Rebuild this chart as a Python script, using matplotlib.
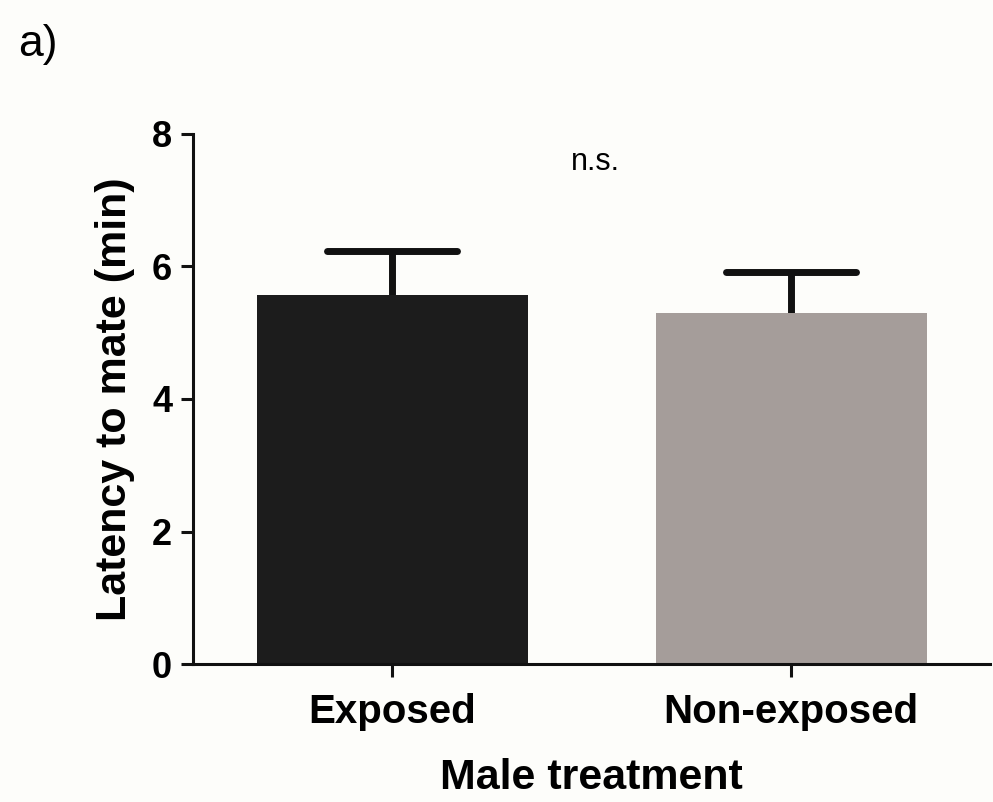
import matplotlib.pyplot as plt

# values
groups = ['Exposed', 'Non-exposed']
means = [5.57, 5.30]
sem = [0.66, 0.62]
colors = ['#1c1c1c', '#a59d9a']

plt.rcParams['font.family'] = ['Liberation Sans', 'DejaVu Sans']

fig = plt.figure(figsize=(9.93, 8.02), dpi=100, facecolor='#fdfdfa')
ax = fig.add_axes([0.1944, 0.172, 0.803, 0.661])
ax.set_facecolor('#fdfdfa')

x = list(range(len(groups)))
ax.bar(x, means, width=0.68, color=colors, zorder=2)

# upper-only error bars: stem + cap
tops = [m + e for m, e in zip(means, sem)]
cap = 0.163
ax.vlines(x, means, tops, colors='#111111', linewidth=5, zorder=1)
ax.hlines(tops, [i - cap for i in x], [i + cap for i in x], colors='#111111',
          linewidth=5, zorder=1, capstyle='round')

ax.set_xlim(-0.5, 1.5)
ax.set_ylim(0, 8)
ax.set_yticks([0, 2, 4, 6, 8])
ax.set_xticks(x)
ax.set_xticklabels(groups)

for s in ['top', 'right']:
    ax.spines[s].set_visible(False)
for s in ['left', 'bottom']:
    ax.spines[s].set_linewidth(2.2)
    ax.spines[s].set_color('#111111')
ax.tick_params(axis='both', width=2.2, length=9, color='#111111',
               labelsize=26, pad=6)
ax.tick_params(axis='x', labelsize=29, pad=12)
for lab in ax.get_xticklabels() + ax.get_yticklabels():
    lab.set_fontweight('bold')

ax.set_ylabel('Latency to mate (min)', fontsize=31, fontweight='bold', labelpad=12)
ax.set_xlabel('Male treatment', fontsize=31, fontweight='bold', labelpad=19)

ax.text(0.51, 7.57, 'n.s.', ha='center', va='center', fontsize=22)
fig.text(0.018, 0.944, 'a)', fontsize=32, va='center', ha='left')

fig.savefig('out.png', dpi=100, facecolor=fig.get_facecolor())
